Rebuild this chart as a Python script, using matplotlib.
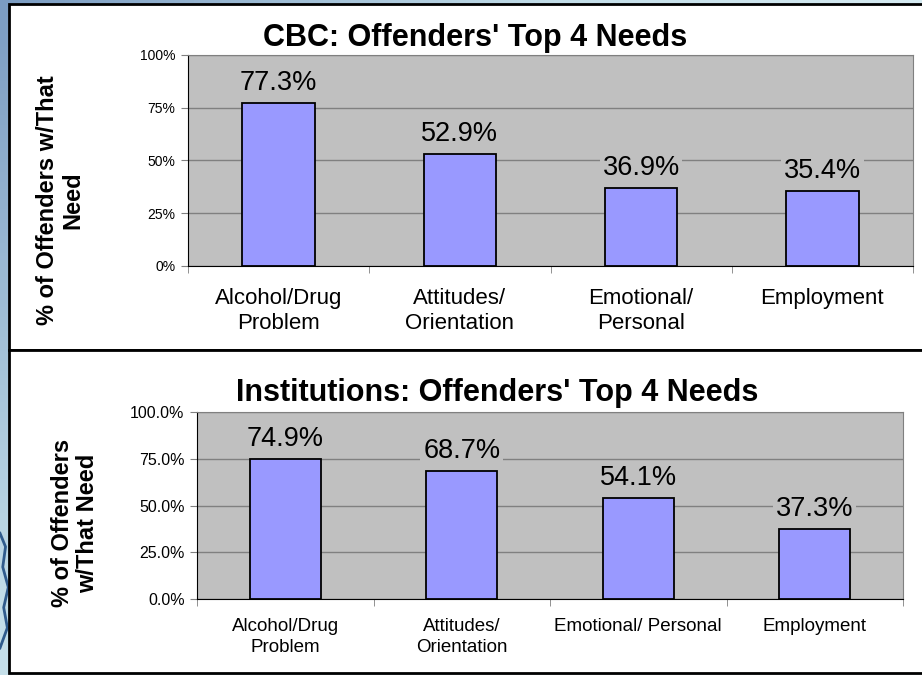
import numpy as np
import matplotlib
matplotlib.use("Agg")
import matplotlib.pyplot as plt
from matplotlib.patches import Rectangle
from matplotlib.colors import LinearSegmentedColormap

plt.rcParams['font.family'] = ['Liberation Sans', 'DejaVu Sans']

# data
cbc_cats = ["Alcohol/Drug\nProblem", "Attitudes/\nOrientation", "Emotional/\nPersonal", "Employment"]
cbc_vals = [77.3, 52.9, 36.9, 35.4]
cbc_ticks = ["0%", "25%", "50%", "75%", "100%"]

inst_cats = ["Alcohol/Drug\nProblem", "Attitudes/\nOrientation", "Emotional/ Personal", "Employment"]
inst_vals = [74.9, 68.7, 54.1, 37.3]
inst_ticks = ["0.0%", "25.0%", "50.0%", "75.0%", "100.0%"]

W, H = 922, 675
fig = plt.figure(figsize=(W / 100, H / 100), dpi=100)

# slide background gradient
bg = fig.add_axes([0, 0, 1, 1], zorder=-10)
gx, gy = np.meshgrid(np.linspace(0, 1, 200), np.linspace(0, 1, 200))
g = np.clip(0.75 * gx + 0.5 * gy + 0.1, 0, 1)
cmap = LinearSegmentedColormap.from_list("bg", ["#7b9cc2", "#c2dde8", "#dff1f6"])
bg.imshow(g, cmap=cmap, extent=[0, 1, 0, 1], aspect="auto")
bg.plot([0.0, 0.006, 0.003, 0.009, 0.004, 0.008, 0.0],
        [0.21, 0.19, 0.16, 0.13, 0.10, 0.07, 0.04], color="#2f5b8c", lw=2)
bg.set_xlim(0, 1)
bg.set_ylim(0, 1)
bg.axis("off")

def fx(px):
    return px / W

def fy(py):
    return 1 - py / H

# white panels
for top, bot in [(4, 350), (350, 673)]:
    fig.patches.append(Rectangle((fx(9), fy(bot)), 1.2, (bot - top) / H,
                                 transform=fig.transFigure, facecolor="white",
                                 edgecolor="black", lw=2, zorder=-5))


def bar_panel(rect, cats, vals, ticklabels, tick_fs, cat_fs, cat_pad, lab_fs):
    ax = fig.add_axes(rect)
    ax.set_facecolor("#c0c0c0")
    x = np.arange(len(vals))
    ax.bar(x, vals, width=0.4, color="#9999ff", edgecolor="black", lw=1.3, zorder=3)
    ax.set_xlim(-0.5, len(vals) - 0.5)
    ax.set_ylim(0, 100)
    ax.set_yticks([0, 25, 50, 75, 100])
    ax.set_yticklabels(ticklabels, fontsize=tick_fs)
    ax.yaxis.grid(True, color="#808080", lw=1)
    ax.set_axisbelow(True)
    ax.set_xticks(x)
    ax.set_xticklabels(cats, fontsize=cat_fs, linespacing=1.25)
    ax.set_xticks(np.arange(len(vals) + 1) - 0.5, minor=True)
    ax.tick_params(axis="x", which="major", length=0, pad=cat_pad)
    ax.tick_params(axis="x", which="minor", length=5, color="#808080")
    ax.tick_params(axis="y", length=5, color="#808080", pad=4)
    ax.spines["left"].set_color("black")
    ax.spines["bottom"].set_color("black")
    for s in ("top", "right"):
        ax.spines[s].set_color("#808080")
    for xi, v in zip(x, vals):
        ax.annotate(f"{v:.1f}%", (xi, v), xytext=(0, 5), textcoords="offset points",
                    ha="center", va="bottom", fontsize=lab_fs, zorder=4,
                    bbox=dict(boxstyle="square,pad=0.1", fc="#c0c0c0", ec="none"))
    return ax


bar_panel([fx(188), fy(266), fx(913) - fx(188), (266 - 55) / H],
          cbc_cats, cbc_vals, cbc_ticks, 10, 16, 16, 19.5)
bar_panel([fx(197), fy(599), fx(903) - fx(197), (599 - 412) / H],
          inst_cats, inst_vals, inst_ticks, 11.5, 13.5, 14, 19.5)

fig.text(fx(475), fy(38), "CBC: Offenders' Top 4 Needs", ha="center", va="center",
         fontsize=22, fontweight="bold")
fig.text(fx(497), fy(393), "Institutions: Offenders' Top 4 Needs", ha="center",
         va="center", fontsize=22, fontweight="bold")

fig.text(fx(60), fy(200), "% of Offenders w/That\nNeed", rotation=90, ha="center",
         va="center", multialignment="center", fontsize=17, fontweight="bold",
         linespacing=1.1)
fig.text(fx(75), fy(523), "% of Offenders\nw/That Need", rotation=90, ha="center",
         va="center", multialignment="center", fontsize=17, fontweight="bold",
         linespacing=1.1)

fig.savefig("out.png", dpi=100)
